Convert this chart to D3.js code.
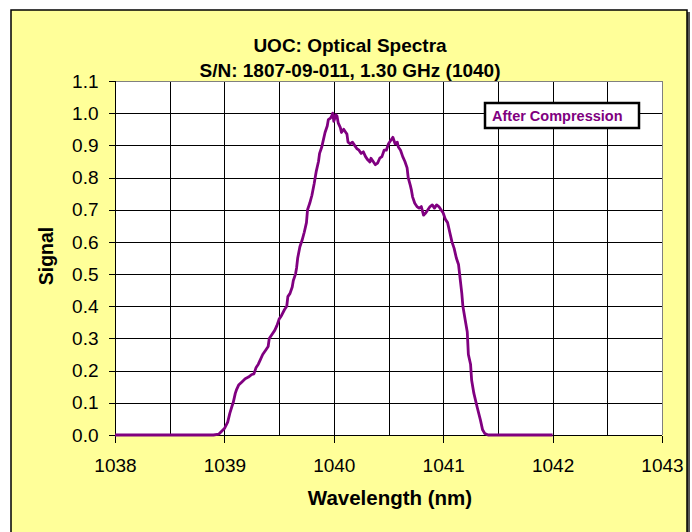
<!DOCTYPE html>
<html><head><meta charset="utf-8">
<script src="https://cdn.jsdelivr.net/npm/d3@7/dist/d3.min.js"></script>
<style>
html,body{margin:0;padding:0;background:#fff;}
svg{display:block;font-family:Arial,"Liberation Sans",sans-serif;}
</style></head>
<body><svg id="c" width="692" height="532"></svg>
<script>
const titleLines = ["UOC: Optical Spectra", "S/N: 1807-09-011, 1.30 GHz (1040)"];
const xTitle = "Wavelength (nm)";
const yTitle = "Signal";
const seriesName = "After Compression";
const xTicks = [1038, 1039, 1040, 1041, 1042, 1043];
const yTicks = [0, 0.1, 0.2, 0.3, 0.4, 0.5, 0.6, 0.7, 0.8, 0.9, 1.0, 1.1];
const xGrid = [1038.5, 1039, 1039.5, 1040, 1040.5, 1041, 1041.5, 1042, 1042.5];
const wavelength = [
 1038.00,1038.50,1038.90,1038.95,1039.00,1039.03,1039.05,1039.07,1039.08,1039.10,
 1039.11,1039.13,1039.16,1039.19,1039.22,1039.25,1039.27,1039.29,1039.31,1039.33,
 1039.35,1039.38,1039.40,1039.41,1039.43,1039.46,1039.48,1039.50,1039.52,1039.55,
 1039.57,1039.58,1039.60,1039.62,1039.63,1039.65,1039.66,1039.67,1039.69,1039.71,
 1039.73,1039.75,1039.76,1039.78,1039.80,1039.82,1039.84,1039.86,1039.87,1039.89,
 1039.90,1039.92,1039.94,1039.95,1039.97,1039.98,1039.99,1040.00,1040.02,1040.03,
 1040.04,1040.06,1040.07,1040.09,1040.11,1040.12,1040.13,1040.15,1040.17,1040.19,
 1040.21,1040.23,1040.25,1040.27,1040.29,1040.31,1040.33,1040.34,1040.36,1040.38,
 1040.40,1040.42,1040.44,1040.46,1040.48,1040.50,1040.52,1040.54,1040.56,1040.58,
 1040.59,1040.61,1040.63,1040.65,1040.67,1040.68,1040.70,1040.71,1040.72,1040.74,
 1040.76,1040.78,1040.80,1040.82,1040.84,1040.86,1040.88,1040.90,1040.92,1040.94,
 1040.96,1040.98,1041.00,1041.02,1041.04,1041.06,1041.08,1041.10,1041.12,1041.14,
 1041.15,1041.17,1041.18,1041.20,1041.22,1041.23,1041.25,1041.26,1041.28,1041.31,
 1041.34,1041.36,1041.38,1041.41,1041.70,1042.00];
const signal = [
 0,0,0,0.003,0.02,0.04,0.068,0.09,0.10,0.13,
 0.14,0.155,0.165,0.175,0.18,0.188,0.19,0.21,0.22,0.235,
 0.25,0.265,0.275,0.30,0.31,0.325,0.34,0.36,0.37,0.39,
 0.40,0.43,0.44,0.46,0.48,0.50,0.52,0.55,0.585,0.605,
 0.63,0.66,0.70,0.72,0.745,0.78,0.82,0.85,0.875,0.895,
 0.91,0.94,0.96,0.98,0.985,0.99,1.0,0.975,0.995,0.99,
 0.97,0.955,0.94,0.95,0.94,0.935,0.91,0.905,0.91,0.90,
 0.89,0.885,0.875,0.88,0.865,0.855,0.848,0.86,0.85,0.84,
 0.845,0.86,0.865,0.885,0.885,0.905,0.915,0.925,0.905,0.91,
 0.895,0.885,0.865,0.85,0.83,0.80,0.775,0.76,0.74,0.72,
 0.71,0.705,0.71,0.683,0.69,0.70,0.71,0.715,0.705,0.715,
 0.71,0.70,0.69,0.67,0.66,0.63,0.60,0.58,0.55,0.53,
 0.50,0.44,0.40,0.36,0.32,0.25,0.22,0.17,0.13,0.087,
 0.047,0.016,0.005,0,0,0];

const svg = d3.select("#c");
const plot = {l:115, r:662, t:81, b:435};
const purple = "#800080";

// outer chart area
svg.append("rect").attr("x",13).attr("y",12).attr("width",677).attr("height",540).attr("fill","#555");
svg.append("rect").attr("x",11).attr("y",10).attr("width",676).attr("height",540)
  .attr("fill","#FFFF99").attr("stroke","#000").attr("stroke-width",1.5);

const x = d3.scaleLinear().domain([1038,1043]).range([plot.l, plot.r]);
const y = d3.scaleLinear().domain([0,1.1]).range([plot.b, plot.t]);

svg.append("rect").attr("x",plot.l).attr("y",plot.t).attr("width",plot.r-plot.l).attr("height",plot.b-plot.t)
  .attr("fill","#fff");

const g = svg.append("g").attr("shape-rendering","crispEdges");
g.selectAll("line.hg").data(yTicks.slice(1,-1)).join("line")
  .attr("x1",plot.l).attr("x2",plot.r).attr("y1",d=>Math.round(y(d))+0.5).attr("y2",d=>Math.round(y(d))+0.5)
  .attr("stroke","#000").attr("stroke-width",1);
g.selectAll("line.vg").data(xGrid).join("line")
  .attr("y1",plot.t).attr("y2",plot.b).attr("x1",d=>Math.round(x(d))+0.5).attr("x2",d=>Math.round(x(d))+0.5)
  .attr("stroke","#000").attr("stroke-width",1);
g.append("line").attr("x1",plot.l).attr("x2",plot.r+0.5).attr("y1",plot.t+0.5).attr("y2",plot.t+0.5).attr("stroke","#808080").attr("stroke-width",1.5);
g.append("line").attr("x1",plot.r+0.5).attr("x2",plot.r+0.5).attr("y1",plot.t).attr("y2",plot.b).attr("stroke","#808080").attr("stroke-width",1.5);

// axes
const xAxis = d3.axisBottom(x).tickValues(xTicks).tickFormat(d3.format("d")).tickSize(7).tickPadding(16);
const yAxis = d3.axisLeft(y).tickValues(yTicks).tickFormat(d3.format(".1f")).tickSize(7).tickPadding(10);
const gx = svg.append("g").attr("transform",`translate(0,${plot.b+0.5})`).call(xAxis);
const gy = svg.append("g").attr("transform",`translate(${plot.l+0.5},0)`).call(yAxis);
[gx,gy].forEach(a=>{
  a.selectAll("path.domain").attr("stroke","#000").attr("stroke-width",1).attr("shape-rendering","crispEdges");
  a.selectAll(".tick line").attr("stroke","#000").attr("shape-rendering","crispEdges");
  a.selectAll("text").attr("font-size",19).attr("fill","#000").attr("font-family","Arial, 'Liberation Sans', sans-serif");
});
gx.select("path.domain").attr("d",`M${plot.l},0H${plot.r}`);
gy.select("path.domain").attr("d",`M0,${plot.t}V${plot.b}`);

// line
const pts = wavelength.map((w,i)=>[w, signal[i]]);
svg.append("path").datum(pts)
  .attr("d", d3.line().x(d=>x(d[0])).y(d=>y(d[1])))
  .attr("fill","none").attr("stroke",purple).attr("stroke-width",2.8).attr("stroke-linejoin","round");

// titles
svg.selectAll("text.title").data(titleLines).join("text")
  .attr("x",350).attr("y",(d,i)=>52+i*25)
  .attr("text-anchor","middle").attr("font-size",19).attr("font-weight","bold").text(d=>d);
svg.append("text").attr("x",390).attr("y",505).attr("text-anchor","middle")
  .attr("font-size",20.5).attr("font-weight","bold").text(xTitle);
svg.append("text").attr("transform",`translate(53,256) rotate(-90)`).attr("text-anchor","middle")
  .attr("font-size",19.5).attr("font-weight","bold").text(yTitle);

// legend
const lg = svg.append("g");
lg.append("rect").attr("x",485).attr("y",103).attr("width",154).attr("height",25)
  .attr("fill","#fff").attr("stroke","#000").attr("stroke-width",2.5);
lg.append("text").attr("x",492).attr("y",121).attr("font-size",14.5).attr("font-weight","bold")
  .attr("fill",purple).text(seriesName);
</script></body></html>
